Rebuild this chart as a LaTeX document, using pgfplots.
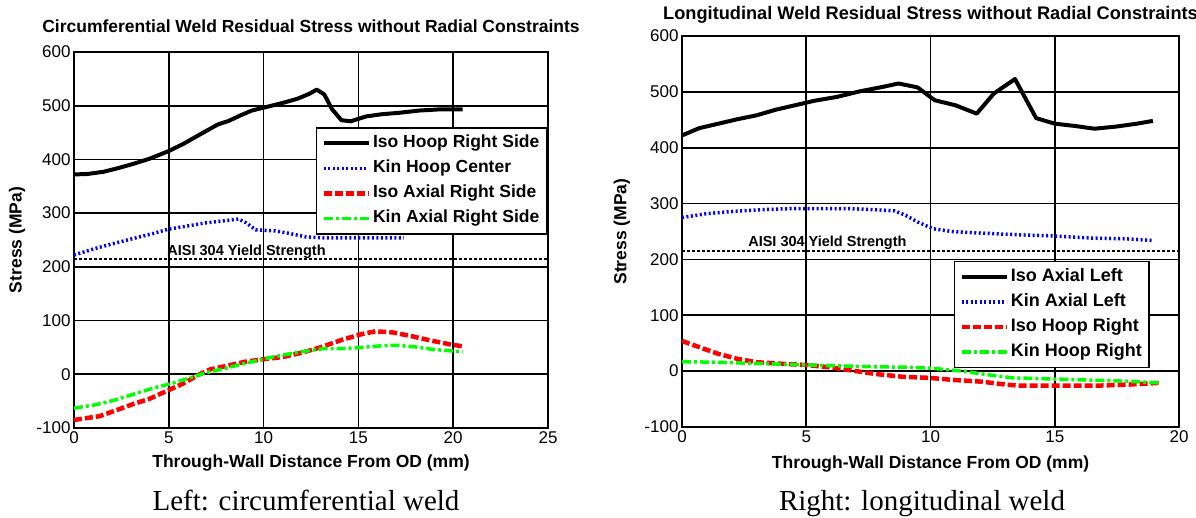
\documentclass[border=0pt]{standalone}
\usepackage{pgfplots}
\pgfplotsset{compat=1.18}
\usepackage{fontspec}
\setmainfont{Liberation Sans}
\newfontfamily\capfont{Liberation Serif}
\newcommand{\bigb}{\bfseries\fontsize{17.5}{20}\selectfont}
\pgfplotsset{
  mystyle/.style={
    scale only axis,
    anchor=south west,
    ymin=-100, ymax=600,
    ytick={-100,0,100,200,300,400,500,600},
    grid=major,
    grid style={black, line width=1.6pt},
    axis line style={black, line width=2pt},
    tick style={draw=none},
    /pgf/number format/assume math mode=true,
    ticklabel style={font=\fontsize{17}{20}\selectfont},
    label style={font=\bigb},
    title style={font=\bigb, anchor=base},
    legend cell align=left,
    legend image code/.code={\draw[##1] (0pt,0pt) -- (45pt,0pt);},
    legend style={draw=black, line width=1.5pt, fill=white, font=\bigb,
      inner xsep=5pt, inner ysep=3pt, row sep=0pt,
      nodes={inner ysep=4.5pt, text height=12.5pt, text depth=3.5pt}},
  },
  isoS/.style={black, line width=4pt, line join=round},
  kinB/.style={blue, line width=3.5pt, dash pattern=on 2pt off 2.5pt},
  isoR/.style={red, line width=4.5pt, dash pattern=on 8pt off 3pt},
  kinG/.style={green, line width=3.5pt, dash pattern=on 9pt off 3pt on 3pt off 3pt},
  yld/.style={black, line width=2pt, dash pattern=on 3pt off 2pt, forget plot},
}
\begin{document}
\begin{tikzpicture}[x=1pt,y=1pt]
\useasboundingbox (0,0) rectangle (1196,517);
% ---------------- Left chart ----------------
\begin{axis}[mystyle,
  at={(74pt,89pt)}, width=474pt, height=376pt,
  xmin=0, xmax=25, xtick={0,5,10,15,20,25},
  title={Circumferential Weld Residual Stress without Radial Constraints},
  title style={at={(axis description cs:0.5,1.0346)}},
  xlabel={Through-Wall Distance From OD (mm)},
  xlabel style={at={(axis description cs:0.5,-0.106)}, anchor=base},
  ylabel={Stress (MPa)},
  ylabel style={at={(axis description cs:-0.120,0.5)}, anchor=center},
  legend style={at={(axis description cs:0.998,0.80)}, anchor=north east},
]
\addplot[isoS] coordinates {
(0,372) (0.74,373) (1.55,377) (2.35,384) (3.15,392) (3.96,401) (4.96,415)
(5.77,429) (6.57,445) (7.58,465) (8.18,472) (8.78,482) (9.38,491) (10.19,498)
(10.99,505) (11.79,513) (12.4,522) (12.8,530) (13.2,521) (13.6,494) (14.1,473)
(14.6,471) (15.4,480) (16.2,484) (17.2,487) (18.2,491) (19.2,493) (20.5,493)};
\addlegendentry{Iso Hoop Right Side}
\addplot[kinB] coordinates {
(0,222) (1.1,234) (2.15,244) (3.15,253) (4.16,262) (4.96,270) (5.97,276)
(6.97,282) (7.97,286) (8.68,289) (9.08,282) (9.58,269) (10.6,267) (11.4,262)
(12.2,256) (13.2,254) (15.2,254) (17.4,254)};
\addlegendentry{Kin Hoop Center}
\addplot[isoR] coordinates {
(0,-85) (1.35,-78) (2.15,-68) (3.15,-55) (3.96,-46) (4.96,-30) (5.77,-17)
(6.57,-1) (7.17,9) (7.97,15) (8.98,23) (9.98,28) (10.99,32) (11.99,40)
(12.99,50) (14.2,65) (15.2,75) (15.9,80) (16.8,78) (17.8,71) (18.8,63)
(19.8,56) (20.5,52)};
\addlegendentry{Iso Axial Right Side}
\addplot[kinG] coordinates {
(0,-63) (1.1,-57) (2.15,-48) (3.15,-37) (4.16,-26) (5.16,-17) (6.17,-6)
(6.97,3) (7.97,11) (8.98,20) (10.19,30) (11.2,37) (12.2,43) (13.2,48)
(14.2,48) (15.2,50) (16.2,53) (17.0,54) (18.0,51) (19.0,46) (20.5,42)};
\addlegendentry{Kin Axial Right Side}
\addplot[yld] coordinates {(0,215) (25,215)};
\node[anchor=base, font=\bfseries\fontsize{14.5}{16}\selectfont] at (axis cs:9.1,221) {AISI 304 Yield Strength};
\end{axis}
% ---------------- Right chart ----------------
\begin{axis}[mystyle,
  at={(682pt,90pt)}, width=497pt, height=391pt,
  xmin=0, xmax=20, xtick={0,5,10,15,20},
  title={Longitudinal Weld Residual Stress without Radial Constraints},
  title style={at={(axis description cs:0.5,1.028)}, font=\bfseries\fontsize{18.2}{20}\selectfont},
  xlabel={Through-Wall Distance From OD (mm)},
  xlabel style={at={(axis description cs:0.5,-0.105)}, anchor=base},
  ylabel={Stress (MPa)},
  ylabel style={at={(axis description cs:-0.121,0.5)}, anchor=center},
  legend style={at={(axis description cs:0.941,0.4246)}, anchor=north east,
    font=\bfseries\fontsize{18}{20}\selectfont},
]
\addplot[isoS] coordinates {
(0,422) (0.69,435) (1.46,443) (2.23,451) (3.0,458) (3.77,468) (4.55,476)
(5.32,484) (6.24,491) (7.16,501) (8.09,509) (8.71,515) (9.48,508) (10.17,485)
(11.0,476) (11.86,461) (12.55,497) (13.4,523) (14.25,453) (15.0,443)
(15.8,439) (16.6,434) (17.5,438) (18.3,443) (18.95,448)};
\addlegendentry{Iso Axial Left}
\addplot[kinB] coordinates {
(0,275) (1.0,282) (2.08,286) (3.16,289) (4.39,291) (5.63,291) (6.7,291)
(7.78,289) (8.55,287) (9.0,279) (9.48,267) (10.1,255) (10.86,250) (12.1,247)
(13.6,244) (15.0,242) (16.6,238) (17.8,237) (18.95,234)};
\addlegendentry{Kin Axial Left}
\addplot[isoR] coordinates {
(0,54) (0.69,43) (1.46,31) (2.23,22) (3.0,16) (4.08,13) (5.0,11) (5.93,7)
(6.86,1) (7.78,-5) (8.86,-10) (9.94,-12) (11.0,-16) (12.1,-19) (13.0,-24)
(13.6,-26) (15.2,-26) (16.7,-26) (18.0,-24) (19.2,-21)};
\addlegendentry{Iso Hoop Right}
\addplot[kinG] coordinates {
(0,17) (1.3,16) (2.85,14) (4.4,12) (5.93,10) (7.47,8) (9.02,7) (10.1,5)
(11.3,0) (12.4,-7) (13.3,-12) (14.9,-14) (16.4,-16) (17.9,-18) (19.2,-21)};
\addlegendentry{Kin Hoop Right}
\addplot[yld] coordinates {(0,215) (20,215)};
\node[anchor=base, font=\bfseries\fontsize{14.5}{16}\selectfont] at (axis cs:5.85,224) {AISI 304 Yield Strength};
\end{axis}
% ---------------- Captions ----------------
\node[anchor=base, font=\capfont\fontsize{29}{32}\selectfont] at (306,7) {Left: circumferential weld};
\node[anchor=base, font=\capfont\fontsize{29}{32}\selectfont] at (922,7) {Right: longitudinal weld};
\end{tikzpicture}
\end{document}
